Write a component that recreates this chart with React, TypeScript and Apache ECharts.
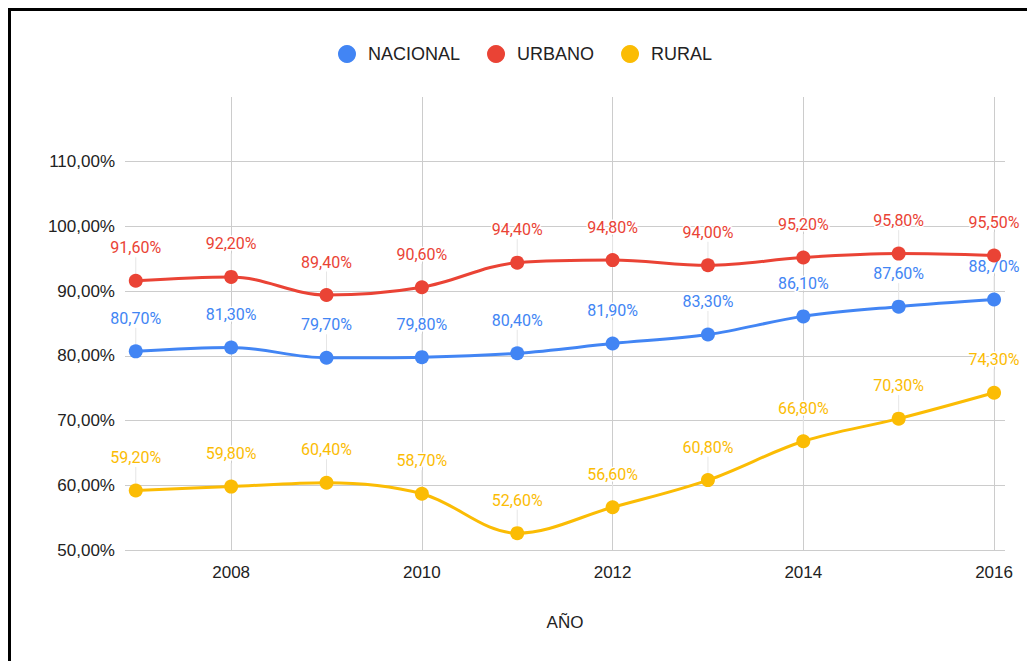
import React, { useEffect, useRef } from "react";
import * as echarts from "echarts";

const years = [2007, 2008, 2009, 2010, 2011, 2012, 2013, 2014, 2015, 2016];
const xTickLabels = [2008, 2010, 2012, 2014, 2016];
const nacional = [80.7, 81.3, 79.7, 79.8, 80.4, 81.9, 83.3, 86.1, 87.6, 88.7];
const urbano = [91.6, 92.2, 89.4, 90.6, 94.4, 94.8, 94.0, 95.2, 95.8, 95.5];
const rural = [59.2, 59.8, 60.4, 58.7, 52.6, 56.6, 60.8, 66.8, 70.3, 74.3];
const seriesNames = ["NACIONAL", "URBANO", "RURAL"];
const colors = ["#4285F4", "#EA4335", "#FBBC04"];

const fmt = (v: number) => v.toFixed(2).replace(".", ",") + "%";

export default function App() {
  const ref = useRef<HTMLDivElement>(null);
  useEffect(() => {
    if (!ref.current) return;
    const chart = echarts.init(ref.current, undefined, { renderer: "svg" });
    const values = [nacional, urbano, rural];
    const series: any[] = values.map((vals, i) => ({
      name: seriesNames[i],
      type: "line",
      smooth: 0.35,
      symbol: "circle",
      symbolSize: 14,
      data: vals.map((v, j) => [years[j], v]),
      itemStyle: { color: colors[i] },
      lineStyle: { color: colors[i], width: 3 },
      label: {
        show: true,
        position: "top",
        distance: 4,
        color: colors[i],
        fontFamily: "Roboto",
        fontSize: 16,
        textBorderColor: "#fff",
        textBorderWidth: 3,
        formatter: (p: any) => fmt(p.value[1]),
      },
      labelLayout: { dy: -14 },
      labelLine: { show: true, lineStyle: { color: "#e6e6e6", width: 1 } },
      z: 3 + i,
      markLine:
        i === 0
          ? {
              silent: true,
              symbol: "none",
              label: { show: false },
              lineStyle: { color: "#cccccc", type: "solid", width: 1 },
              data: xTickLabels.map((x) => ({ xAxis: x })),
              z: 1,
            }
          : undefined,
    }));
    chart.setOption({
      animation: false,
      color: colors,
      legend: {
        top: 40,
        left: 333,
        itemWidth: 18,
        itemHeight: 18,
        itemGap: 27,
        icon: "circle",
        textStyle: {
          fontFamily: "Liberation Sans, Arial",
          fontSize: 18,
          color: "#222",
          padding: [0, 0, 0, 7],
        },
        data: seriesNames,
      },
      grid: { left: 125, right: 22, top: 97, bottom: 111 },
      xAxis: {
        type: "value",
        min: 2006.887,
        max: 2016.115,
        name: "AÑO",
        nameLocation: "middle",
        nameGap: 64,
        nameTextStyle: { fontFamily: "Liberation Sans, Arial", fontSize: 17, color: "#222" },
        axisLine: { show: false },
        axisTick: { show: false },
        splitLine: { show: false },
        axisLabel: {
          customValues: xTickLabels,
          margin: 14,
          fontFamily: "Liberation Sans, Arial",
          fontSize: 17,
          color: "#222",
          formatter: (v: number) => String(Math.round(v)),
        },
      },
      yAxis: {
        type: "value",
        min: 50,
        max: 120,
        interval: 10,
        axisLine: { show: false },
        axisTick: { show: false },
        splitLine: { show: true, showMaxLine: false, lineStyle: { color: "#cccccc", width: 1 } },
        axisLabel: {
          showMaxLabel: false,
          margin: 10,
          fontFamily: "Liberation Sans, Arial",
          fontSize: 17,
          color: "#222",
          formatter: (v: number) => (v >= 120 ? "" : fmt(v)),
        },
      },
      series,
    });
    return () => chart.dispose();
  }, []);
  return (
    <div style={{ position: "fixed", inset: 0, overflow: "hidden", background: "#fff" }}>
      <div
        style={{
          position: "absolute",
          left: 8,
          top: 8,
          width: 1100,
          height: 720,
          border: "3px solid #000",
          boxSizing: "border-box",
        }}
      />
      <div ref={ref} style={{ position: "absolute", left: 0, top: 0, width: 1027, height: 661 }} />
    </div>
  );
}
